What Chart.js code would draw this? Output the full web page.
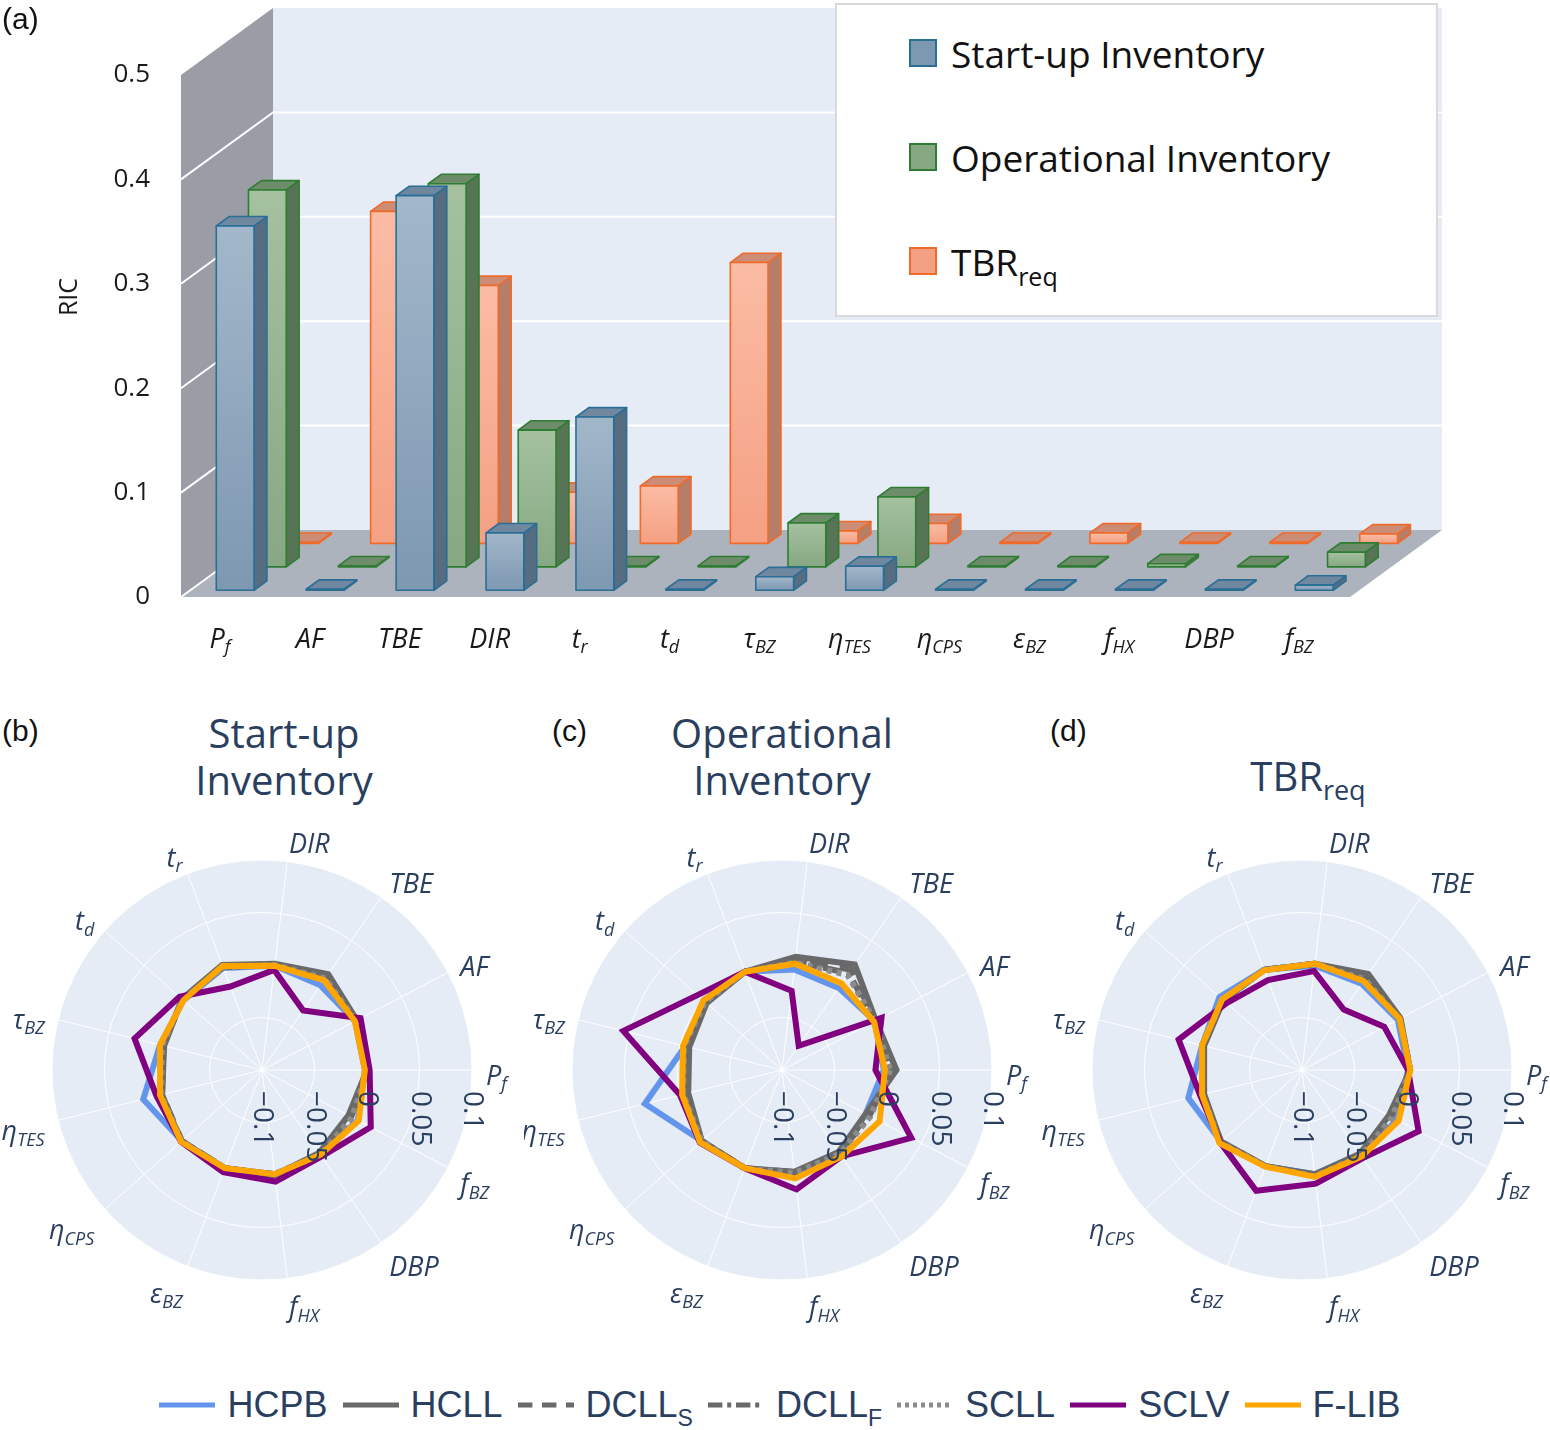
<!DOCTYPE html>
<html>
<head>
<meta charset="utf-8">
<script src="https://cdn.jsdelivr.net/npm/chart.js@4.4.1/dist/chart.umd.min.js"></script>
<style>
  body { margin: 0; width: 1550px; height: 1430px; position: relative; background: #fff; overflow: hidden; }
  canvas { position: absolute; }
  .panel { position: absolute; font-family: "Liberation Sans"; font-size: 30px; line-height: 34px; color: #111; }
  .title { position: absolute; width: 400px; text-align: center; font-family: "Open Sans"; font-size: 40px; line-height: 47px; color: #2a3f5f; }
  .title sub { font-size: 27px; vertical-align: -9px; line-height: 0; }
  #barLegend { position: absolute; left: 835px; top: 3px; width: 599px; height: 310px; border: 2px solid #d9d9d9; background: #fff; font-family: "Open Sans"; font-size: 37px; color: #111; }
  #barLegend .item { position: absolute; left: 72px; display: flex; align-items: center; height: 44px; }
  #barLegend .sq { width: 24px; height: 24px; border: 2px solid; margin-right: 14px; }
  #barLegend sub { font-size: 25px; vertical-align: -10px; line-height: 0; }
  #lineLegend { position: absolute; left: 0; top: 1384px; width: 1560px; display: flex; justify-content: center; align-items: center; gap: 15px; font-family: "Liberation Sans"; font-size: 36px; color: #2a3f5f; }
  #lineLegend .it { display: flex; align-items: center; gap: 12px; }
  #lineLegend sub { font-size: 23px; vertical-align: -9px; line-height: 0; }
</style>
</head>
<body>
<canvas id="bars" width="1550" height="680" style="left:0;top:0"></canvas>
<canvas id="radarSU" width="524" height="520" style="left:0;top:810px"></canvas>
<canvas id="radarOP" width="518" height="520" style="left:524px;top:810px"></canvas>
<canvas id="radarTBR" width="508" height="520" style="left:1042px;top:810px"></canvas>

<div class="panel" style="left:2px;top:2px">(a)</div>
<div class="panel" style="left:2px;top:714px">(b)</div>
<div class="panel" style="left:552px;top:714px">(c)</div>
<div class="panel" style="left:1050px;top:714px">(d)</div>

<div class="title" style="left:84px;top:709px">Start-up<br>Inventory</div>
<div class="title" style="left:582px;top:709px">Operational<br>Inventory</div>
<div class="title" style="left:1108px;top:752px">TBR<sub>req</sub></div>

<div id="barLegend"></div>
<div id="lineLegend"></div>

<script>
// parameters (same order for bar categories and radar axes)
const axisMain = ['P', 'AF', 'TBE', 'DIR', 't', 't', 'τ', 'η', 'η', 'ε', 'f', 'DBP', 'f'];
const axisSub = ['f', '', '', '', 'r', 'd', 'BZ', 'TES', 'CPS', 'BZ', 'HX', '', 'BZ'];
const axisLabels = axisMain.map((m, i) => m + (axisSub[i] ? '_' + axisSub[i] : ''));

// (a) RIC per parameter
const startupRIC = [0.349, 0.001, 0.378, 0.055, 0.166, 0.001, 0.013, 0.023, 0.001, 0.001, 0.001, 0.001, 0.005];
const operationalRIC = [0.361, 0.001, 0.367, 0.131, 0.001, 0.001, 0.042, 0.067, 0.001, 0.001, 0.003, 0.001, 0.014];
const tbrRIC = [0.001, 0.318, 0.247, 0.049, 0.055, 0.269, 0.012, 0.019, 0.001, 0.010, 0.001, 0.001, 0.009];
const ricTicks = [0, 0.1, 0.2, 0.3, 0.4, 0.5];

// (b)-(d) blankets
const blanketNames = ['HCPB', 'HCLL', 'DCLL', 'DCLL', 'SCLL', 'SCLV', 'F-LIB'];
const blanketSubs = ['', '', 'S', 'F', '', '', ''];
const blanketColors = ['#6495ed', '#696969', '#696969', '#696969', '#8c8c8c', '#800080', '#ffa500'];
const blanketDash = [[], [], [18, 12], [18, 6, 5, 6], [5, 5], [], []];
const radarTicks = [-0.1, -0.05, 0, 0.05, 0.1];

// rows: HCPB, HCLL, DCLL_S, DCLL_F, SCLL, SCLV, F-LIB
const startupDiff = [
  [-0.002, 0.000, -0.002, 0.000, 0.004, 0.000, 0.000, 0.0165, 0.002, 0.000, 0.000, -0.002, 0.003],
  [0.000, 0.002, 0.011, 0.002, 0.007, 0.002, -0.004, -0.002, 0.003, 0.000, 0.001, -0.004, -0.007],
  [0.000, 0.001, 0.008, 0.001, 0.005, 0.001, -0.003, -0.002, 0.002, 0.000, 0.001, -0.003, -0.005],
  [0.000, 0.001, 0.007, 0.001, 0.005, 0.001, -0.002, -0.001, 0.002, 0.000, 0.000, -0.003, -0.004],
  [0.000, 0.001, 0.006, 0.001, 0.004, 0.001, -0.002, -0.001, 0.002, 0.000, 0.000, -0.002, -0.003],
  [0.0025, 0.006, -0.031, -0.004, -0.015, 0.005, 0.025, 0.0035, 0.003, 0.004, 0.007, 0.000, 0.017],
  [-0.002, 0.000, 0.004, 0.000, 0.006, 0.000, 0.000, 0.000, 0.003, 0.000, 0.000, -0.002, 0.004],
];
const operationalDiff = [
  [-0.003, 0.000, -0.005, -0.0035, 0.000, 0.000, -0.005, 0.0345, 0.002, 0.000, 0.000, -0.003, -0.010],
  [0.009, 0.001, 0.022, 0.0086, 0.000, -0.004, -0.009, -0.008, 0.002, 0.000, -0.0025, -0.005, -0.010],
  [0.006, 0.000, 0.016, 0.006, 0.000, -0.003, -0.007, -0.006, 0.002, 0.000, -0.002, -0.004, -0.008],
  [0.004, 0.000, 0.012, 0.004, 0.000, -0.002, -0.005, -0.004, 0.002, 0.000, -0.001, -0.004, -0.006],
  [0.003, 0.000, 0.010, 0.003, 0.000, -0.002, -0.004, -0.003, 0.002, 0.000, -0.001, -0.003, -0.005],
  [-0.011, 0.007, -0.072, -0.024, 0.000, 0.0076, 0.0556, 0.000, 0.0045, 0.000, 0.0146, 0.000, 0.039],
  [-0.002, -0.001, 0.000, 0.002, 0.000, 0.000, -0.003, -0.002, 0.004, 0.000, 0.004, 0.000, 0.005],
];
const tbrDiff = [
  [0.001, 0.003, 0.000, 0.000, 0.002, 0.005, -0.002, 0.0115, 0.003, -0.002, 0.000, 0.000, 0.002],
  [0.003, 0.006, 0.011, 0.002, 0.002, 0.000, -0.004, -0.004, 0.003, -0.002, 0.000, -0.003, -0.0066],
  [0.003, 0.005, 0.008, 0.002, 0.002, 0.000, -0.003, -0.003, 0.003, -0.002, 0.001, -0.002, -0.005],
  [0.003, 0.005, 0.006, 0.002, 0.002, 0.001, -0.003, -0.003, 0.004, -0.002, 0.001, -0.002, -0.004],
  [0.003, 0.005, 0.005, 0.002, 0.002, 0.001, -0.002, -0.002, 0.004, -0.002, 0.002, -0.001, -0.003],
  [0.001, -0.0115, -0.030, -0.005, -0.0085, -0.004, 0.021, 0.000, 0.004, 0.023, 0.009, 0.002, 0.0254],
  [0.003, 0.005, 0.003, 0.002, 0.0015, 0.0015, -0.002, -0.002, 0.005, -0.0015, 0.0025, 0.000, 0.004],
];

// 3D look of panel (a)
const DX = 92, DY = -67;
const SERIES_DEPTH = [0.1, 0.45, 0.8];
const BAR_DEPTH = 0.14;
const barStyles = [
  { top: '#a3b7ca', bottom: '#7d98b1', side: '#566c80', cap: '#6f88a0', line: '#2a6e96' },
  { top: '#a5c1a0', bottom: '#86a882', side: '#587456', cap: '#6d8c69', line: '#2e7d32' },
  { top: '#fbbca4', bottom: '#f4a083', side: '#b57e68', cap: '#cc8c75', line: '#f06a2a' },
];

function subText(ctx, x, y, main, sub, size, align, color, italic) {
  const f = (italic ? 'italic ' : '') + size + 'px "Open Sans"';
  const fs = (italic ? 'italic ' : '') + Math.round(size * 0.66) + 'px "Open Sans"';
  ctx.font = f;
  const wm = ctx.measureText(main).width;
  ctx.font = fs;
  const ws = sub ? ctx.measureText(sub).width : 0;
  const total = wm + ws;
  let x0 = x;
  if (align === 'center') x0 = x - total / 2;
  if (align === 'right') x0 = x - total;
  ctx.fillStyle = color;
  ctx.textAlign = 'left';
  ctx.textBaseline = 'middle';
  ctx.font = f;
  ctx.fillText(main, x0, y);
  if (sub) {
    ctx.font = fs;
    ctx.fillText(sub, x0 + wm, y + size * 0.3);
  }
}

function poly(ctx, pts, fill, stroke) {
  ctx.beginPath();
  pts.forEach(([x, y], i) => (i ? ctx.lineTo(x, y) : ctx.moveTo(x, y)));
  ctx.closePath();
  if (fill) { ctx.fillStyle = fill; ctx.fill(); }
  if (stroke) { ctx.strokeStyle = stroke; ctx.stroke(); }
}

const box3d = {
  id: 'box3d',
  beforeDatasetsDraw(chart) {
    const { ctx, chartArea: { left, right, top, bottom }, scales: { y } } = chart;
    ctx.save();
    poly(ctx, [[left, top], [left + DX, top + DY], [left + DX, bottom + DY], [left, bottom]], '#9a9da5');
    poly(ctx, [[left, bottom], [right, bottom], [right + DX, bottom + DY], [left + DX, bottom + DY]], '#adb3bc');
    ctx.fillStyle = '#e5ecf6';
    ctx.fillRect(left + DX, top + DY, right - left, bottom - top);
    ctx.strokeStyle = '#ffffff';
    ctx.lineWidth = 2;
    ricTicks.forEach((v) => {
      if (v >= 0.5) return;
      const py = y.getPixelForValue(v);
      ctx.beginPath();
      ctx.moveTo(left, py);
      ctx.lineTo(left + DX, py + DY);
      if (v > 0) ctx.lineTo(right + DX, py + DY);
      ctx.stroke();
    });
    ctx.restore();
  },
  afterDatasetsDraw(chart) {
    const ctx = chart.ctx;
    const dx = DX * BAR_DEPTH, dy = DY * BAR_DEPTH;
    ctx.save();
    ctx.lineWidth = 1.6;
    ctx.lineJoin = 'round';
    for (let d = 2; d >= 0; d--) {
      const st = barStyles[d];
      const ox = DX * SERIES_DEPTH[d], oy = DY * SERIES_DEPTH[d];
      chart.getDatasetMeta(d).data.forEach((el) => {
        const { x, y, base, width } = el.getProps(['x', 'y', 'base', 'width'], true);
        const x0 = x - width / 2 + ox, x1 = x + width / 2 + ox;
        const yt = y + oy, yb = base + oy;
        const g = ctx.createLinearGradient(0, yt, 0, yb);
        g.addColorStop(0, st.top);
        g.addColorStop(1, st.bottom);
        poly(ctx, [[x1, yt], [x1 + dx, yt + dy], [x1 + dx, yb + dy], [x1, yb]], st.side, st.line);
        poly(ctx, [[x0, yt], [x1, yt], [x1 + dx, yt + dy], [x0 + dx, yt + dy]], st.cap, st.line);
        poly(ctx, [[x0, yt], [x1, yt], [x1, yb], [x0, yb]], g, st.line);
      });
    }
    ctx.restore();
  },
  afterDraw(chart) {
    const { ctx, chartArea: { left, bottom }, scales: { x, y } } = chart;
    ctx.save();
    ctx.fillStyle = '#1a1a1a';
    ctx.font = '26px "Open Sans"';
    ctx.textAlign = 'right';
    ctx.textBaseline = 'middle';
    ricTicks.forEach((v) => ctx.fillText(String(v), left - 31, y.getPixelForValue(v)));
    axisMain.forEach((m, i) => subText(ctx, x.getPixelForValue(i) - 6, bottom + 43, m, axisSub[i], 27, 'center', '#1a1a1a', true));
    ctx.translate(70, (y.top + y.bottom) / 2 - 39);
    ctx.rotate(-Math.PI / 2);
    ctx.textAlign = 'center';
    ctx.font = '25px "Open Sans"';
    ctx.fillText('RIC', 0, 0);
    ctx.restore();
  },
};

const hidden = 'rgba(0,0,0,0)';
new Chart(document.getElementById('bars'), {
  type: 'bar',
  data: {
    labels: axisLabels,
    datasets: [
      { label: 'Start-up Inventory', data: startupRIC, backgroundColor: hidden, borderColor: hidden, borderWidth: 0 },
      { label: 'Operational Inventory', data: operationalRIC, backgroundColor: hidden, borderColor: hidden, borderWidth: 0 },
      { label: 'TBR_req', data: tbrRIC, backgroundColor: hidden, borderColor: hidden, borderWidth: 0 },
    ],
  },
  options: {
    responsive: false,
    animation: false,
    devicePixelRatio: 1,
    layout: { padding: { left: 181, right: 200, top: 75, bottom: 83 } },
    datasets: { bar: { grouped: false, barPercentage: 0.42, categoryPercentage: 1 } },
    plugins: { legend: { display: false }, tooltip: { enabled: false }, colors: { enabled: false } },
    scales: {
      x: { display: false },
      y: { display: false, min: 0, max: 0.5 },
    },
  },
  plugins: [box3d],
});

// radar axes run counter-clockwise from the right in the figure
const toChartOrder = (arr) => [arr[0], ...arr.slice(1).reverse()];

const radarText = {
  id: 'radarText',
  afterDatasetsDraw(chart) {
    const { ctx } = chart;
    const r = chart.scales.r;
    const mains = toChartOrder(axisMain), subs = toChartOrder(axisSub);
    ctx.save();
    mains.forEach((m, i) => {
      const p = r.getPointPosition(i, r.drawingArea + 14);
      const c = Math.cos(p.angle), s = Math.sin(p.angle);
      const align = c > 0.01 ? 'left' : (c < -0.01 ? 'right' : 'center');
      subText(ctx, p.x, p.y + s * 9 + 7, m, subs[i], 27, align, '#2a3f5f', true);
    });
    ctx.fillStyle = '#2a3f5f';
    ctx.font = '28px "Open Sans"';
    ctx.textAlign = 'left';
    ctx.textBaseline = 'middle';
    radarTicks.forEach((v) => {
      const px = r.xCenter + r.getDistanceFromCenterForValue(v);
      const txt = v < 0 ? '\u2212' + String(-v) : String(v);
      ctx.save();
      ctx.translate(px, r.yCenter + 21);
      ctx.rotate(Math.PI / 2);
      ctx.fillText(txt, 0, 0);
      ctx.restore();
    });
    ctx.restore();
  },
};

function makeRadar(id, rows, padding) {
  new Chart(document.getElementById(id), {
    type: 'radar',
    data: {
      labels: toChartOrder(axisLabels),
      datasets: rows.map((row, k) => ({
        label: blanketNames[k] + blanketSubs[k],
        data: toChartOrder(row),
        borderColor: blanketColors[k],
        backgroundColor: 'rgba(0,0,0,0)',
        borderWidth: 6,
        borderDash: blanketDash[k],
        pointRadius: 0,
        fill: false,
        order: rows.length - k,
      })),
    },
    options: {
      responsive: false,
      animation: false,
      devicePixelRatio: 1,
      layout: { padding },
      plugins: { legend: { display: false }, tooltip: { enabled: false } },
      scales: {
        r: {
          min: -0.1,
          max: 0.1,
          startAngle: 90,
          backgroundColor: '#e5ecf6',
          ticks: { display: false, stepSize: 0.05 },
          pointLabels: { display: false },
          grid: { circular: true, color: '#ffffff', lineWidth: 1 },
          angleLines: { color: '#ffffff', lineWidth: 1 },
        },
      },
    },
    plugins: [radarText],
  });
}

makeRadar('radarSU', startupDiff, { left: 52, right: 52, top: 50, bottom: 50 });
makeRadar('radarOP', operationalDiff, { left: 48, right: 50, top: 50, bottom: 50 });
makeRadar('radarTBR', tbrDiff, { left: 50, right: 38, top: 50, bottom: 50 });

// legends
const barLegendNames = ['Start-up Inventory', 'Operational Inventory', 'TBR<sub>req</sub>'];
const barLegend = document.getElementById('barLegend');
barLegendNames.forEach((name, i) => {
  const item = document.createElement('div');
  item.className = 'item';
  item.style.top = (26 + i * 104) + 'px';
  item.innerHTML = `<span class="sq" style="background:${barStyles[i].bottom};border-color:${barStyles[i].line}"></span><span>${name}</span>`;
  barLegend.appendChild(item);
});

const lineLegend = document.getElementById('lineLegend');
blanketNames.forEach((name, k) => {
  const it = document.createElement('div');
  it.className = 'it';
  const dash = blanketDash[k].length ? `stroke-dasharray="${blanketDash[k].map((v) => v * 0.8).join(',')}"` : '';
  const label = name + (blanketSubs[k] ? `<sub>${blanketSubs[k]}</sub>` : '');
  it.innerHTML = `<svg width="56" height="10"><line x1="0" y1="5" x2="56" y2="5" stroke="${blanketColors[k]}" stroke-width="5" ${dash}/></svg><span>${label}</span>`;
  lineLegend.appendChild(it);
});
</script>
</body>
</html>
